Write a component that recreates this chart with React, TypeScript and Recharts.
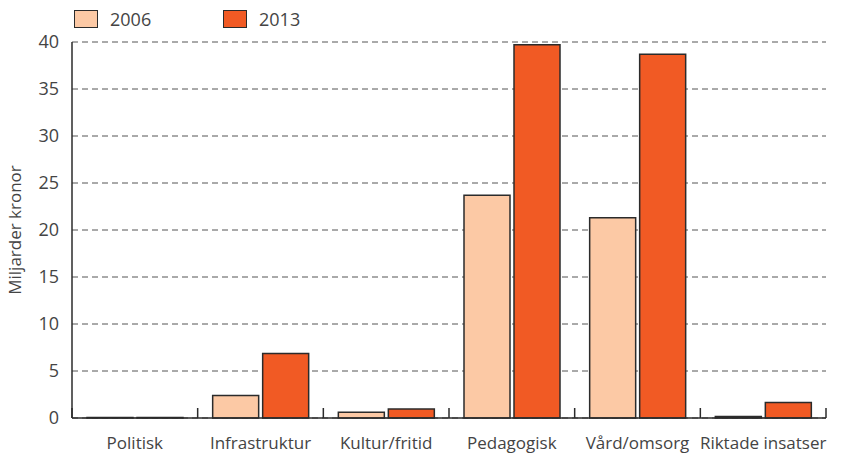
import { BarChart, Bar, XAxis, YAxis, CartesianGrid } from "recharts"

const categories = ["Politisk", "Infrastruktur", "Kultur/fritid", "Pedagogisk", "Vård/omsorg", "Riktade insatser"]
const values2006 = [0.05, 2.4, 0.6, 23.7, 21.3, 0.15]
const values2013 = [0.05, 6.85, 0.95, 39.7, 38.7, 1.65]
const yTicks = [0, 5, 10, 15, 20, 25, 30, 35, 40]

const data = categories.map((name, i) => ({ name, y2006: values2006[i], y2013: values2013[i] }))

const LIGHT = "#fcc9a5"
const DARK = "#f15a24"
const EDGE = "#2b2b2b"
const FONT = "'Open Sans', sans-serif"
const TEXT = "#444"
const FS = 17

function CategoryTick(props: any) {
  const { x, y, payload, index, visibleTicksCount } = props
  const half = payload?.offset ?? 62.8
  return (
    <g>
      <line x1={x - half} x2={x - half} y1={y} y2={y - 10} stroke={EDGE} strokeWidth={1.5} />
      {index === visibleTicksCount - 1 && (
        <line x1={x + half} x2={x + half} y1={y} y2={y - 10} stroke={EDGE} strokeWidth={1.5} />
      )}
      <text x={x} y={y + 31} textAnchor="middle" fontSize={FS} fontFamily={FONT} fill={TEXT}>
        {payload.value}
      </text>
    </g>
  )
}

function LegendItem({ color, label }: { color: string; label: string }) {
  return (
    <div style={{ display: "flex", alignItems: "center", marginRight: 37 }}>
      <div style={{ width: 22, height: 16, background: color, border: `1.5px solid ${EDGE}`, marginRight: 12 }} />
      <span style={{ fontSize: 18, fontFamily: FONT, color: TEXT, width: 76 }}>{label}</span>
    </div>
  )
}

export default function App() {
  return (
    <div style={{ position: "absolute", left: 0, top: 0, width: 852, height: 458, background: "#fff" }}>
      <div style={{ position: "absolute", left: 74, top: 7, display: "flex" }}>
        <LegendItem color={LIGHT} label="2006" />
        <LegendItem color={DARK} label="2013" />
      </div>
      <BarChart
        width={852}
        height={458}
        data={data}
        margin={{ top: 42, right: 26, left: 0, bottom: 0 }}
        barCategoryGap={15}
        barGap={4}
      >
        <CartesianGrid vertical={false} stroke="#555" strokeDasharray="6 4" />
        <XAxis
          dataKey="name"
          height={40}
          axisLine={{ stroke: EDGE, strokeWidth: 1.5 }}
          tickLine={false}
          tickSize={0}
          tickMargin={0}
          tick={<CategoryTick />}
          interval={0}
        />
        <YAxis
          width={72}
          domain={[0, 40]}
          ticks={yTicks}
          axisLine={{ stroke: EDGE, strokeWidth: 1.5 }}
          tickLine={false}
          tickSize={0}
          tickMargin={13}
          tick={{ fontSize: 18, fontFamily: FONT, fill: TEXT }}
          label={{
            value: "Miljarder kronor",
            angle: -90,
            position: "center",
            dx: -21,
            style: { fontSize: FS, fontFamily: FONT, fill: TEXT },
          }}
        />
        <Bar dataKey="y2006" fill={LIGHT} stroke={EDGE} strokeWidth={1.5} isAnimationActive={false} />
        <Bar dataKey="y2013" fill={DARK} stroke={EDGE} strokeWidth={1.5} isAnimationActive={false} />
      </BarChart>
    </div>
  )
}
